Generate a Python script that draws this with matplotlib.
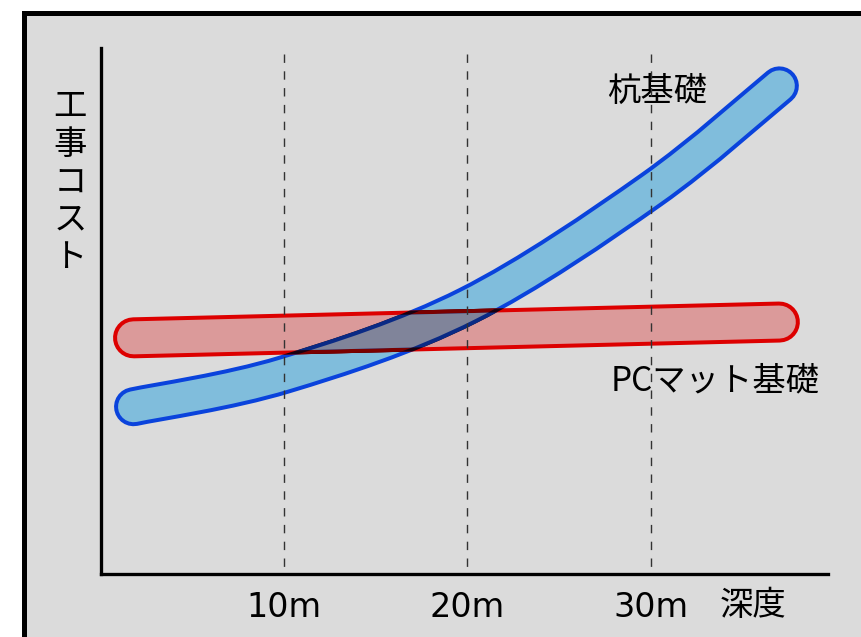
import numpy as np
import matplotlib
matplotlib.use("Agg")
import matplotlib.pyplot as plt
from matplotlib.patches import Rectangle, Polygon, PathPatch
from matplotlib.path import Path

DPI = 100
W, H = 861, 637
CJK = ["Noto Sans CJK JP", "DejaVu Sans"]

# --- data ---
depth_ticks = [10, 20, 30]
depth_labels = ["10m", "20m", "30m"]

# pile foundation cost band (centre line)
pile_depth = [1.8, 10.0, 20.0, 30.0, 37.0]
pile_cost = [31.8, 37.9, 51.0, 73.0, 92.8]

# PC mat foundation cost band (centre line)
mat_depth = [1.8, 37.0]
mat_cost = [44.9, 47.9]

# colours
BG = "#dbdbdb"
BLUE_EDGE = "#0a43dc"
BLUE_FILL = "#80bddc"
RED_EDGE = "#dd0000"
RED_FILL = "#db9a9a"
# where the two bands overlap (darkened like a multiply blend)
EDGE_ON_EDGE = "#1a0010"
BFILL_ON_REDGE = "#7a0000"
BEDGE_ON_RFILL = "#0a2a85"
FILL_ON_FILL = "#80849a"


def pt(px):
    return px * 72 / DPI


fig = plt.figure(figsize=(W / DPI, H / DPI), dpi=DPI, facecolor="white")

# grey panel with a heavy black frame (runs off the right/bottom edge)
frame = Rectangle((23.5 / W, -0.1), 1.2, (H - 12.5) / H + 0.1,
                  transform=fig.transFigure, facecolor=BG,
                  edgecolor="black", linewidth=pt(5), zorder=-5)
fig.add_artist(frame)

ax = fig.add_axes([100.5 / W, 63 / H, 727.5 / W, 526 / H])
ax.set_facecolor("none")
ax.set_xlim(0, 39.65)
ax.set_ylim(0, 100)


def smooth_path(xs, ys):
    """Catmull-Rom curve through the points, as cubic Bezier segments."""
    p = np.column_stack([xs, ys]).astype(float)
    n = len(p)
    verts, codes = [p[0]], [Path.MOVETO]
    for i in range(n - 1):
        prev = p[i - 1] if i > 0 else p[i]
        nxt = p[i + 2] if i + 2 < n else p[i + 1]
        verts += [p[i] + (p[i + 1] - prev) / 6,
                  p[i + 1] - (nxt - p[i]) / 6,
                  p[i + 1]]
        codes += [Path.CURVE4] * 3
    return Path(verts, codes)


def stadium(xs, ys, half_px):
    """Outline of a straight round-capped stroke, returned in data coords."""
    p = ax.transData.transform(np.column_stack([xs, ys]))
    a, b = p[0], p[-1]
    d = (b - a) / np.linalg.norm(b - a)
    n = np.array([-d[1], d[0]])
    ang = np.arctan2(n[1], n[0])
    t1 = np.linspace(ang, ang - np.pi, 60)
    t2 = np.linspace(ang - np.pi, ang - 2 * np.pi, 60)
    cap_b = b + half_px * np.column_stack([np.cos(t1), np.sin(t1)])
    cap_a = a + half_px * np.column_stack([np.cos(t2), np.sin(t2)])
    verts = np.vstack([cap_b, cap_a])
    return Polygon(ax.transData.inverted().transform(verts), closed=True,
                   transform=ax.transData)


def band(path, width_px, color, z, clip=None):
    patch = PathPatch(path, fill=False, edgecolor=color, lw=pt(width_px),
                      capstyle="round", joinstyle="round", zorder=z)
    ax.add_patch(patch)
    if clip is not None:
        patch.set_clip_path(clip)
    return patch


PILE_W, MAT_W, EDGE = 39, 41, 4
pile = smooth_path(pile_depth, pile_cost)
mat = smooth_path(mat_depth, mat_cost)

band(pile, PILE_W, BLUE_EDGE, 2)
band(pile, PILE_W - 2 * EDGE, BLUE_FILL, 2.1)
band(mat, MAT_W, RED_EDGE, 3)
band(mat, MAT_W - 2 * EDGE, RED_FILL, 3.1)

# redraw the pile band inside the mat band in darkened colours
outer = stadium(mat_depth, mat_cost, MAT_W / 2)
inner = stadium(mat_depth, mat_cost, (MAT_W - 2 * EDGE) / 2)
band(pile, PILE_W, EDGE_ON_EDGE, 4, outer)
band(pile, PILE_W - 2 * EDGE, BFILL_ON_REDGE, 4.1, outer)
band(pile, PILE_W, BEDGE_ON_RFILL, 5, inner)
band(pile, PILE_W - 2 * EDGE, FILL_ON_FILL, 5.1, inner)

# depth guides
for x in depth_ticks:
    ax.plot([x, x], [98.9, 0], color="#333333", lw=pt(1.4),
            ls=(0, (6, 6)), zorder=6)

ax.spines[["top", "right"]].set_visible(False)
for s in ("left", "bottom"):
    ax.spines[s].set_linewidth(pt(3.3))
    ax.spines[s].set_color("black")

ax.set_xticks(depth_ticks, depth_labels)
ax.set_yticks([])
ax.tick_params(axis="x", length=0, pad=12, labelsize=24, labelcolor="black")

ax.text(35.56, -5.9, "深度", fontsize=24, family=CJK, ha="center", va="center")
ax.text(-1.65, 74.5, "工\n事\nコ\nス\nト", fontsize=24, family=CJK,
        ha="center", va="center", linespacing=1.1)
ax.text(30.33, 91.8, "杭基礎", fontsize=24, family=CJK, ha="center", va="center")
ax.text(33.49, 36.7, "PCマット基礎", fontsize=24, family=CJK,
        ha="center", va="center")

fig.savefig("out.png", dpi=DPI)
